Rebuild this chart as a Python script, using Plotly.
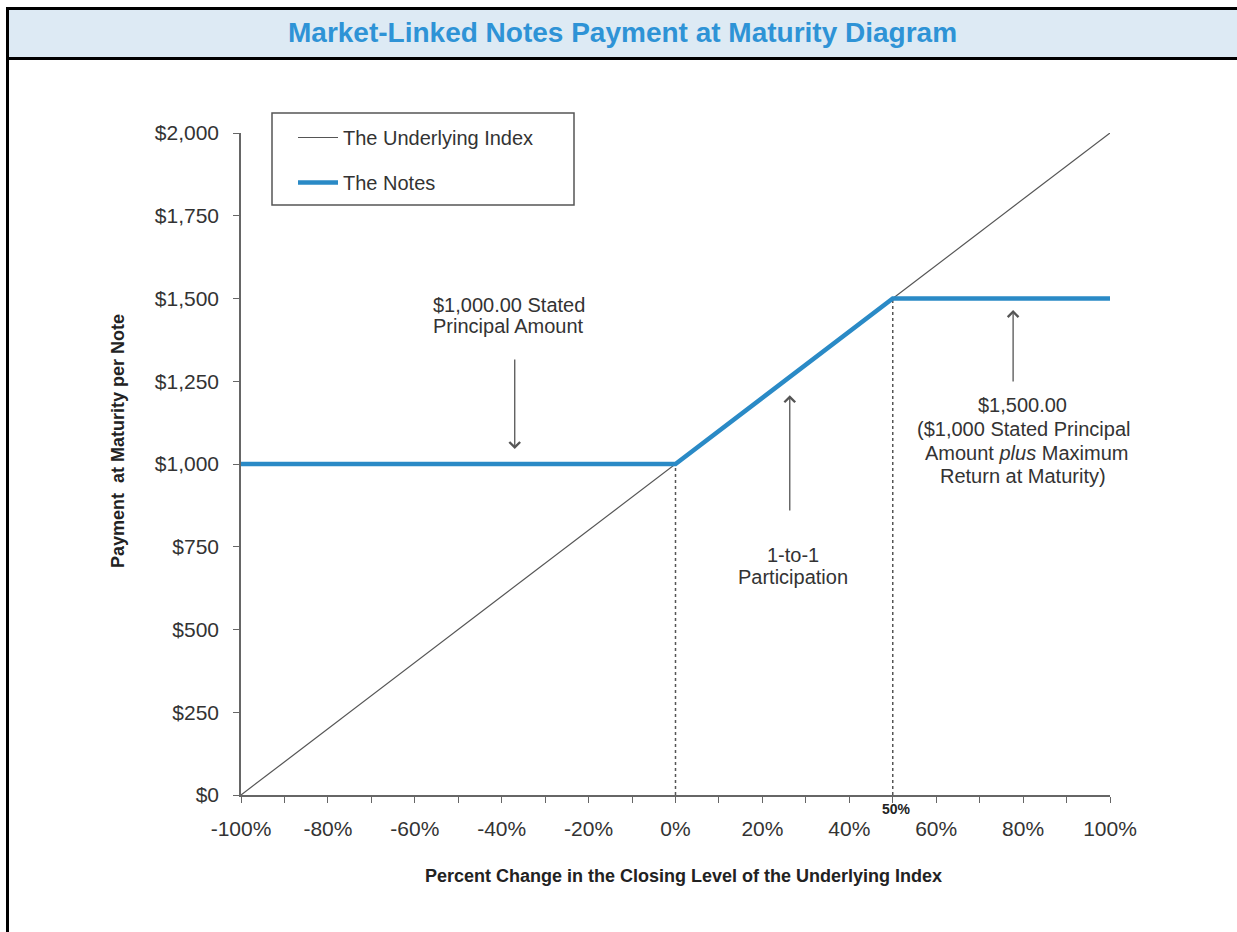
import plotly.graph_objects as go

# ---- data ----
index_change = [-100, 100]            # % change of underlying
index_payment = [0, 2000]             # payment tracking the index
notes_change = [-100, 0, 50, 100]
notes_payment = [1000, 1000, 1500, 1500]
guide_x = [0, 50]                     # breakpoints with dotted guides
guide_top = [1000, 1500]

x_tickvals = [-100, -90, -80, -70, -60, -50, -40, -30, -20, -10, 0, 10, 20, 30, 40, 50, 60, 70, 80, 90, 100]
x_ticktext = ["-100%", "", "-80%", "", "-60%", "", "-40%", "", "-20%", "", "0%", "", "20%", "", "40%", "", "60%", "", "80%", "", "100%"]
y_tickvals = [0, 250, 500, 750, 1000, 1250, 1500, 1750, 2000]
y_ticktext = ["$0", "$250", "$500", "$750", "$1,000", "$1,250", "$1,500", "$1,750", "$2,000"]

W, H = 1237, 932
L, R, T, B = 241, 1110, 133, 795


def px(xp):
    return (xp - L) / (R - L)


def py(yp):
    return (B - yp) / (B - T)


FONT = "Liberation Sans, Arial, sans-serif"
TXT = "#333333"
BLUE = "#2A8AC6"

fig = go.Figure()

# dotted guides
for gx, gt in zip(guide_x, guide_top):
    fig.add_trace(go.Scatter(x=[gx, gx], y=[0, gt], mode="lines",
                             line=dict(color="#555555", width=1.5, dash="dot"),
                             showlegend=False, hoverinfo="skip"))

fig.add_trace(go.Scatter(x=index_change, y=index_payment, mode="lines",
                         name="The Underlying Index", legendgroup="a",
                         line=dict(color="#555555", width=1.2)))
fig.add_trace(go.Scatter(x=notes_change, y=notes_payment, mode="lines",
                         name="The Notes", legendgroup="b",
                         line=dict(color=BLUE, width=4.5)))

shapes = []
# header background
shapes.append(dict(type="rect", xref="paper", yref="paper",
                   x0=px(9), x1=px(1240), y0=py(57), y1=py(10),
                   fillcolor="#DDEAF4", line=dict(width=0), layer="below"))
# black frame lines
shapes.append(dict(type="line", xref="paper", yref="paper",
                   x0=px(6), x1=px(1240), y0=py(8.5), y1=py(8.5),
                   line=dict(color="black", width=3)))
shapes.append(dict(type="line", xref="paper", yref="paper",
                   x0=px(6), x1=px(1240), y0=py(58.5), y1=py(58.5),
                   line=dict(color="black", width=3)))
shapes.append(dict(type="line", xref="paper", yref="paper",
                   x0=px(7.5), x1=px(7.5), y0=py(7), y1=py(935),
                   line=dict(color="black", width=3)))
# legend box
shapes.append(dict(type="rect", xref="paper", yref="paper",
                   x0=px(272), x1=px(574), y0=py(205), y1=py(113),
                   line=dict(color="#555555", width=1.5), fillcolor="rgba(0,0,0,0)"))

ann = []


def text_at(t, xp, yp, size, color, xanchor="center", angle=0):
    ann.append(dict(text=t, xref="paper", yref="paper", x=px(xp), y=py(yp),
                    xanchor=xanchor, yanchor="middle", showarrow=False,
                    textangle=angle, font=dict(family=FONT, size=size, color=color)))


text_at("<b>Market-Linked Notes Payment at Maturity Diagram</b>", 622, 33, 28, "#2E93D6")
text_at("<b>Percent Change in the Closing Level of the Underlying Index</b>", 683, 876, 18, "#222222")
text_at("<b>Payment  at Maturity per Note</b>", 118, 441, 18, "#222222", angle=-90)
text_at("<b>50%</b>", 896, 809, 14, "#222222")

text_at("$1,000.00 Stated", 431, 305, 20, TXT, "left")
text_at("Principal Amount", 431, 326, 20, TXT, "left")
text_at("1-to-1", 793, 555, 20, TXT)
text_at("Participation", 793, 577, 20, TXT)
text_at("$1,500.00", 1022, 405, 20, TXT)
text_at("($1,000 Stated Principal", 1023, 429, 20, TXT)
text_at("Amount <i>plus</i> Maximum", 1026, 453, 20, TXT)
text_at("Return at Maturity)", 1023, 476, 20, TXT)


def arrow(x_head, y_head, x_tail, y_tail):
    ann.append(dict(text="", xref="x", yref="y", axref="x", ayref="y",
                    x=x_head, y=y_head, ax=x_tail, ay=y_tail,
                    showarrow=True, arrowhead=4, arrowsize=1.6, arrowwidth=1.3,
                    arrowcolor="#555555"))


arrow(-37, 1045, -37, 1320)
arrow(26.3, 1208, 26.3, 855)
arrow(77.7, 1465, 77.7, 1245)

fig.update_layout(
    width=W, height=H,
    margin=dict(l=L, r=W - R, t=T, b=H - B),
    paper_bgcolor="white", plot_bgcolor="white",
    showlegend=True,
    legend=dict(x=px(293), y=py(118), xanchor="left", yanchor="top",
                bgcolor="rgba(0,0,0,0)", borderwidth=0,
                font=dict(family=FONT, size=20, color=TXT),
                traceorder="grouped", tracegroupgap=16, itemwidth=40),
    shapes=shapes, annotations=ann,
    xaxis=dict(range=[-100, 100], tickvals=x_tickvals, ticktext=x_ticktext,
               ticks="outside", ticklen=6, tickwidth=1.3, tickcolor="#666666",
               showline=True, linecolor="#666666", linewidth=1.5,
               showgrid=False, zeroline=False, ticklabelstandoff=8,
               tickfont=dict(family=FONT, size=21, color=TXT)),
    yaxis=dict(range=[0, 2000], tickvals=y_tickvals, ticktext=y_ticktext,
               ticks="outside", ticklen=6, tickwidth=1.3, tickcolor="#666666",
               showline=True, linecolor="#666666", linewidth=1.5,
               showgrid=False, zeroline=False, ticklabelstandoff=10,
               tickfont=dict(family=FONT, size=21, color=TXT)),
)

fig.write_html("out.html", config={"displayModeBar": False},
               post_script="document.body.style.margin='0';")
